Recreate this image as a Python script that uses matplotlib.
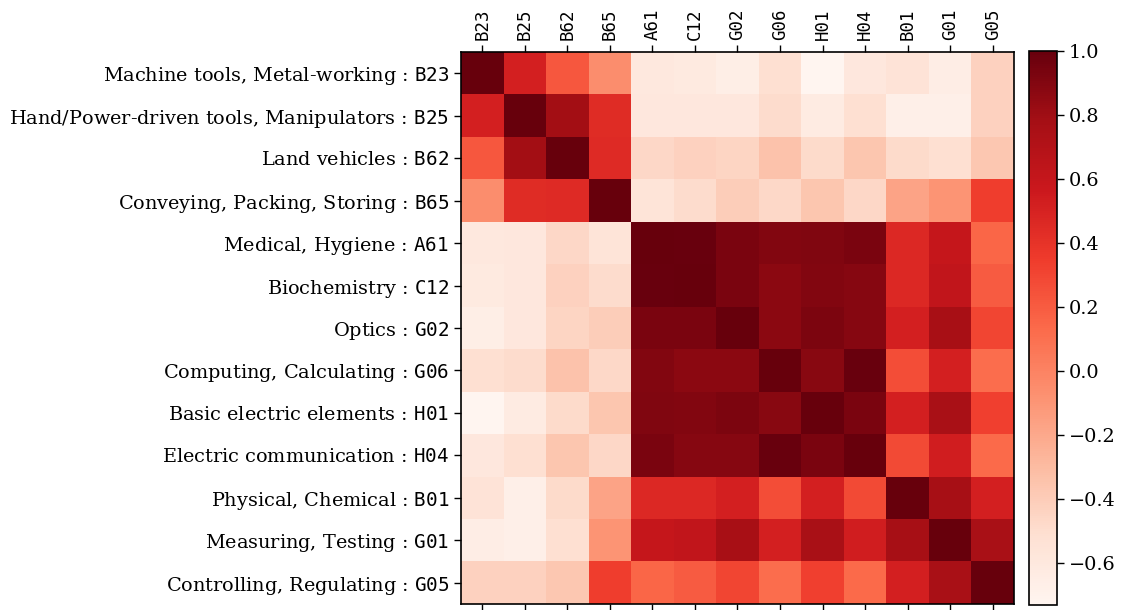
import numpy as np
import matplotlib
matplotlib.use("Agg")
import matplotlib.pyplot as plt

codes = ["B23", "B25", "B62", "B65", "A61", "C12", "G02", "G06", "H01", "H04", "B01", "G01", "G05"]
names = ["Machine tools, Metal-working", "Hand/Power-driven tools, Manipulators", "Land vehicles",
         "Conveying, Packing, Storing", "Medical, Hygiene", "Biochemistry", "Optics",
         "Computing, Calculating", "Basic electric elements", "Electric communication",
         "Physical, Chemical", "Measuring, Testing", "Controlling, Regulating"]

row_B23 = [1.00, 0.52, 0.22, -0.06, -0.60, -0.62, -0.66, -0.52, -0.73, -0.59, -0.55, -0.65, -0.43]
row_B25 = [0.52, 1.00, 0.79, 0.44, -0.59, -0.59, -0.59, -0.49, -0.63, -0.52, -0.67, -0.67, -0.43]
row_B62 = [0.22, 0.79, 1.00, 0.45, -0.46, -0.43, -0.45, -0.34, -0.48, -0.36, -0.48, -0.52, -0.37]
row_B65 = [-0.06, 0.44, 0.45, 1.00, -0.56, -0.49, -0.40, -0.47, -0.36, -0.46, -0.17, -0.09, 0.34]
row_A61 = [-0.60, -0.59, -0.46, -0.56, 1.00, 0.99, 0.93, 0.90, 0.91, 0.93, 0.46, 0.60, 0.15]
row_C12 = [-0.62, -0.59, -0.43, -0.49, 0.99, 1.00, 0.93, 0.87, 0.90, 0.89, 0.46, 0.62, 0.20]
row_G02 = [-0.66, -0.59, -0.45, -0.40, 0.93, 0.93, 1.00, 0.87, 0.92, 0.89, 0.52, 0.76, 0.30]
row_G06 = [-0.52, -0.49, -0.34, -0.47, 0.90, 0.87, 0.87, 1.00, 0.88, 0.99, 0.27, 0.52, 0.12]
row_H01 = [-0.73, -0.63, -0.48, -0.36, 0.91, 0.90, 0.92, 0.88, 1.00, 0.93, 0.52, 0.75, 0.33]
row_H04 = [-0.59, -0.52, -0.36, -0.46, 0.93, 0.89, 0.89, 0.99, 0.93, 1.00, 0.28, 0.53, 0.13]
row_B01 = [-0.55, -0.67, -0.48, -0.17, 0.46, 0.46, 0.52, 0.27, 0.52, 0.28, 1.00, 0.77, 0.52]
row_G01 = [-0.65, -0.67, -0.52, -0.09, 0.60, 0.62, 0.76, 0.52, 0.75, 0.53, 0.77, 1.00, 0.75]
row_G05 = [-0.43, -0.43, -0.37, 0.34, 0.15, 0.20, 0.30, 0.12, 0.33, 0.13, 0.52, 0.75, 1.00]

corr = np.array([row_B23, row_B25, row_B62, row_B65, row_A61, row_C12, row_G02,
                 row_G06, row_H01, row_H04, row_B01, row_G01, row_G05])

cbar_ticks = [1.0, 0.8, 0.6, 0.4, 0.2, 0.0, -0.2, -0.4, -0.6]

plt.rcParams['font.family'] = ['DejaVu Serif']
plt.rcParams['mathtext.fontset'] = 'custom'
plt.rcParams['mathtext.tt'] = 'DejaVu Sans Mono'
plt.rcParams['mathtext.rm'] = 'DejaVu Serif'
plt.rcParams['axes.unicode_minus'] = True

fig = plt.figure(figsize=(11.23, 6.10), dpi=100)
ax = fig.add_axes([0.4105, 0.0098, 0.4924, 0.9049])
cax = fig.add_axes([0.9163, 0.0082, 0.0249, 0.9082])

im = ax.imshow(corr, cmap='Reds', vmin=corr.min(), vmax=1.0, aspect='auto', interpolation='nearest')

n = len(codes)
ax.set_xticks(np.arange(n))
ax.set_yticks(np.arange(n))
ax.set_xticklabels(codes, rotation=90, fontsize=12.5, family='DejaVu Sans Mono')
ax.set_yticklabels([f"{nm} : $\\mathtt{{{c}}}$" for nm, c in zip(names, codes)], fontsize=13.9)
ax.tick_params(axis='x', top=True, bottom=True, labeltop=True, labelbottom=False, length=5, width=1)
ax.tick_params(axis='y', left=True, right=False, length=5, width=1)
for s in ax.spines.values():
    s.set_linewidth(1.2)

cb = fig.colorbar(im, cax=cax)
cb.set_ticks(cbar_ticks)
cb.set_ticklabels([f"{t:.1f}".replace("-", "\u2212") for t in cbar_ticks])
cb.ax.tick_params(labelsize=13.9, length=5, width=1)
cb.outline.set_linewidth(1.2)

fig.savefig("out.png", dpi=100)
